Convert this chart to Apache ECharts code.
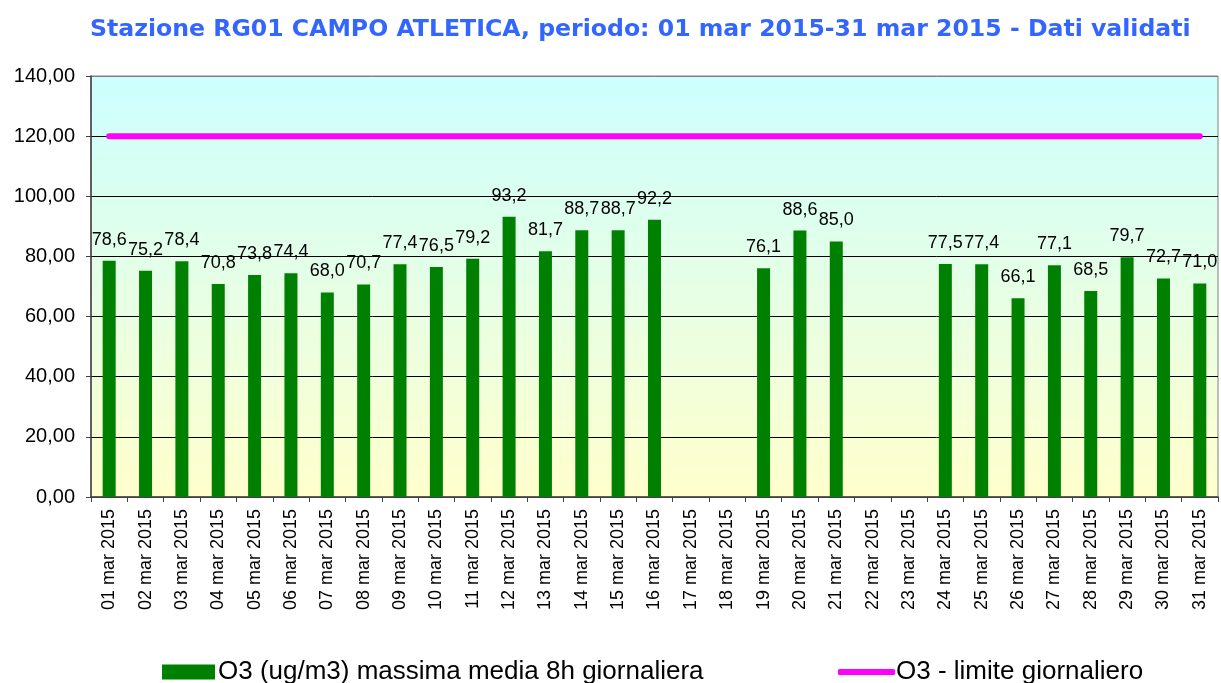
<!DOCTYPE html>
<html>
<head>
<meta charset="utf-8">
<script src="https://cdn.jsdelivr.net/npm/echarts@6/dist/echarts.min.js"></script>
<style>
  html, body { margin: 0; padding: 0; background: #fff; }
  #chart { width: 1221px; height: 683px; }
</style>
</head>
<body>
<div id="chart"></div>
<script>
// daily dates, march 2015
const days = [
  '01 mar 2015', '02 mar 2015', '03 mar 2015', '04 mar 2015', '05 mar 2015',
  '06 mar 2015', '07 mar 2015', '08 mar 2015', '09 mar 2015', '10 mar 2015',
  '11 mar 2015', '12 mar 2015', '13 mar 2015', '14 mar 2015', '15 mar 2015',
  '16 mar 2015', '17 mar 2015', '18 mar 2015', '19 mar 2015', '20 mar 2015',
  '21 mar 2015', '22 mar 2015', '23 mar 2015', '24 mar 2015', '25 mar 2015',
  '26 mar 2015', '27 mar 2015', '28 mar 2015', '29 mar 2015', '30 mar 2015',
  '31 mar 2015'
]
// O3 massima media 8h giornaliera (ug/m3), null = missing day
const o3Max8h = [
  78.6, 75.2, 78.4, 70.8, 73.8, 74.4, 68.0, 70.7, 77.4, 76.5,
  79.2, 93.2, 81.7, 88.7, 88.7, 92.2, null, null, 76.1, 88.6,
  85.0, null, null, 77.5, 77.4, 66.1, 77.1, 68.5, 79.7, 72.7,
  71.0
]
// limite giornaliero
const o3Limit = [
  120, 120, 120, 120, 120, 120, 120, 120, 120, 120,
  120, 120, 120, 120, 120, 120, 120, 120, 120, 120,
  120, 120, 120, 120, 120, 120, 120, 120, 120, 120,
  120
]
const yTicks = [0, 20, 40, 60, 80, 100, 120, 140]

const barName = 'O3 (ug/m3) massima media 8h giornaliera'
const lineName = 'O3 - limite giornaliero'

const chart = echarts.init(document.getElementById('chart'))
const option = {
  animation: false,
  title: {
    text: 'Stazione RG01 CAMPO ATLETICA, periodo: 01 mar 2015-31 mar 2015 - Dati validati',
    left: 85,
    top: 13,
    textStyle: {
      fontFamily: 'DejaVu Sans',
      fontWeight: 'bold',
      fontSize: 23.6,
      color: '#3366ff'
    }
  },
  legend: [{
    data: [barName],
    left: 157,
    top: 654,
    icon: 'rect',
    itemWidth: 53,
    itemHeight: 15,
    itemGap: 4,
    textStyle: { fontFamily: 'Liberation Sans', fontSize: 26, color: '#000', padding: [0, 0, 0, -2] }
  }, {
    data: [lineName],
    left: 833,
    top: 654,
    icon: 'roundRect',
    itemWidth: 57,
    itemHeight: 6,
    textStyle: { fontFamily: 'Liberation Sans', fontSize: 26, color: '#000', padding: [0, 0, 0, -4] }
  }],
  grid: {
    left: 91,
    right: 3,
    top: 76,
    bottom: 186,
    show: true,
    borderColor: '#808080',
    borderWidth: 1,
    backgroundColor: new echarts.graphic.LinearGradient(0, 0, 0, 1, [
      { offset: 0, color: '#ccffff' },
      { offset: 1, color: '#ffffcc' }
    ])
  },
  xAxis: {
    type: 'category',
    data: days,
    boundaryGap: true,
    axisLine: { lineStyle: { color: '#404040', width: 1.5 } },
    axisTick: { show: true, length: 5, lineStyle: { color: '#404040' } },
    axisLabel: {
      rotate: 90,
      interval: 0,
      margin: 12,
      fontFamily: 'Liberation Sans',
      fontSize: 18,
      color: '#000'
    }
  },
  yAxis: {
    type: 'value',
    min: yTicks[0],
    max: yTicks[yTicks.length - 1],
    interval: 20,
    axisLine: { show: true, lineStyle: { color: '#404040', width: 1.5 } },
    axisTick: { show: true, length: 5, lineStyle: { color: '#404040' } },
    axisLabel: {
      margin: 16,
      fontFamily: 'Liberation Sans',
      fontSize: 20,
      color: '#000',
      formatter: v => v.toFixed(2).replace('.', ',')
    },
    splitLine: {
      show: true,
      lineStyle: {
        color: ['#404040', '#000', '#000', '#000', '#000', '#000', '#000', '#808080'],
        width: 1
      }
    }
  },
  series: [{
    name: barName,
    type: 'bar',
    data: o3Max8h,
    barWidth: 13,
    itemStyle: { color: '#008000' },
    label: {
      show: true,
      position: 'top',
      distance: 12,
      fontFamily: 'Liberation Sans',
      fontSize: 18,
      color: '#000',
      formatter: p => p.value.toFixed(1).replace('.', ',')
    }
  }, {
    name: lineName,
    type: 'line',
    data: o3Limit,
    showSymbol: false,
    symbol: 'none',
    itemStyle: { color: '#ff00ff' },
    lineStyle: { color: '#ff00ff', width: 6, cap: 'round' },
    z: 3
  }]
}
chart.setOption(option)
</script>
</body>
</html>
